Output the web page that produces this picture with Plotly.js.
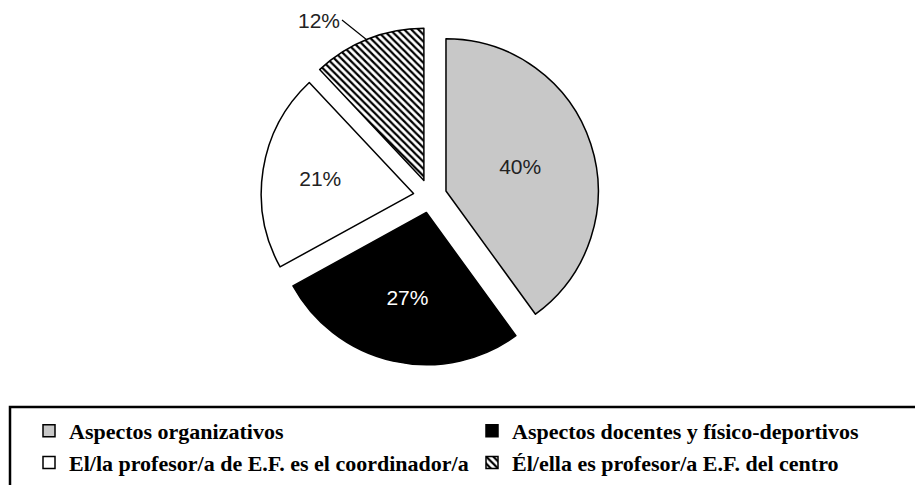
<!DOCTYPE html>
<html>
<head>
<meta charset="utf-8">
<script src="https://cdn.plot.ly/plotly-3.0.1.min.js"></script>
<style>html,body{margin:0;padding:0;background:#fff;}#chart{width:915px;height:485px;}</style>
</head>
<body>
<div id="chart"></div>
<script>
const labels = [
  "Aspectos organizativos",
  "Aspectos docentes y físico-deportivos",
  "El/la profesor/a de E.F. es el coordinador/a",
  "Él/ella es profesor/a E.F. del centro"
];
const values = [40, 27, 21, 12];
const sliceColors = ["#c8c8c8", "#000000", "#ffffff", "#ffffff"];
const patternShapes = ["", "", "", "\\"];
const textColors = ["#222222", "#ffffff", "#222222", "#222222"];
const textPositions = ["inside", "inside", "inside", "none"];
const total = values.reduce((a, b) => a + b, 0);

const trace = {
  type: "pie",
  labels: labels,
  values: values,
  sort: false,
  direction: "clockwise",
  rotation: 0,
  pull: [0.11, 0.11, 0.11, 0.11],
  textinfo: "percent",
  texttemplate: "%{percent:.0%}",
  textposition: textPositions,
  insidetextorientation: "horizontal",
  textfont: {family: "Liberation Sans, Arial, sans-serif", size: 21, color: textColors},
  marker: {
    colors: sliceColors,
    line: {color: "#000", width: 1.5},
    pattern: {shape: patternShapes, fgcolor: "#000", bgcolor: "#fff", size: 5, solidity: 0.45}
  },
  domain: {x: [0.285, 0.655], y: [0.247, 0.944]},
  automargin: false,
  hoverinfo: "label+percent"
};

const layout = {
  width: 915,
  height: 485,
  margin: {l: 0, r: 0, t: 0, b: 0},
  paper_bgcolor: "#fff",
  showlegend: true,
  legend: {
    orientation: "h",
    x: 33 / 915, xanchor: "left",
    y: 1 - 410 / 485, yanchor: "top",
    entrywidth: 398, entrywidthmode: "pixels",
    itemwidth: 30,
    font: {family: "Liberation Serif, Times New Roman, serif", size: 22, color: "#000", weight: "bold"},
    bgcolor: "rgba(0,0,0,0)",
    traceorder: "normal"
  },
  annotations: [{
    xref: "paper", yref: "paper",
    x: 367 / 915, y: 1 - 40 / 485,
    ax: -25, ay: -20,
    text: Math.round(values[3] / total * 100) + "%",
    showarrow: true, arrowhead: 0, arrowwidth: 1.2, arrowcolor: "#000",
    xanchor: "right",
    font: {family: "Liberation Sans, Arial, sans-serif", size: 21, color: "#222"}
  }],
  shapes: [{
    type: "rect", xref: "paper", yref: "paper",
    x0: 10 / 915, x1: 1.02, y0: -0.1, y1: 1 - 407 / 485,
    line: {color: "#000", width: 2.5}, fillcolor: "rgba(0,0,0,0)", layer: "below"
  }]
};

Plotly.newPlot("chart", [trace], layout, {displayModeBar: false, staticPlot: true});
</script>
</body>
</html>
